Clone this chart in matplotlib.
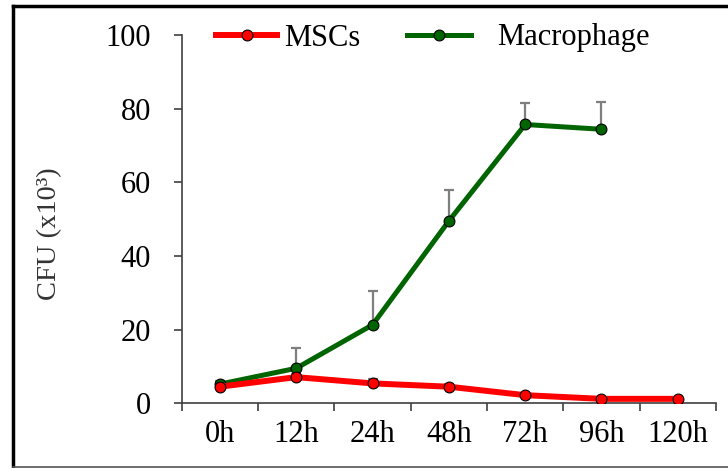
import numpy as np
import matplotlib
matplotlib.use('Agg')
import matplotlib.pyplot as plt
from matplotlib.lines import Line2D
from matplotlib.ticker import FixedLocator, NullFormatter

# data
times = ['0h', '12h', '24h', '48h', '72h', '96h', '120h']
mscs = [4.5, 7.1, 5.4, 4.5, 2.2, 1.2, 1.2]
mscs_err = [0.5, 0.8, 1.2, 0.6, 0.4, 0.3, 0.3]
macro = [5.2, 9.5, 21.3, 49.5, 75.7, 74.4]
macro_err = [0.8, 5.4, 9.2, 8.4, 5.8, 7.3]

plt.rcParams['font.family'] = ['Liberation Serif', 'DejaVu Serif']

W, H = 728, 468
fig = plt.figure(figsize=(W / 100, H / 100), dpi=100)
ax = fig.add_axes([0.2496, 0.1383, 0.9835 - 0.2496, 0.9252 - 0.1383])

x = np.arange(len(times)) + 0.5
xm = x[:len(macro)]

# error bars (upper only, grey)
ax.errorbar(x, mscs, yerr=[np.zeros(len(mscs)), mscs_err], fmt='none',
            ecolor='#7f7f7f', elinewidth=1.6, capsize=3.3, capthick=1.6, zorder=1)
ax.errorbar(xm, macro, yerr=[np.zeros(len(macro)), macro_err], fmt='none',
            ecolor='#7f7f7f', elinewidth=1.6, capsize=3.3, capthick=1.6, zorder=1)

l1, = ax.plot(x, mscs, color='#ff0000', lw=4.3, marker='o', ms=7.8,
              mfc='#ff0000', mec='black', mew=0.8, zorder=3)
l2, = ax.plot(xm, macro, color='#006400', lw=3.6, marker='o', ms=7.8,
              mfc='#006400', mec='black', mew=0.8, zorder=2)

ax.set_xlim(0, len(times))
ax.set_ylim(0, 100)
ax.set_yticks([0, 20, 40, 60, 80, 100])

# ticks at category boundaries, labels at centres
ax.xaxis.set_major_locator(FixedLocator(np.arange(len(times) + 1)))
ax.xaxis.set_major_formatter(NullFormatter())
ax.xaxis.set_minor_locator(FixedLocator(x))
ax.set_xticklabels(times, minor=True)
ax.tick_params(axis='x', which='minor', length=0, pad=12, labelsize=22)
ax.tick_params(axis='x', which='major', length=6, width=1.2, color='#404040', direction='out')
ax.tick_params(axis='y', length=6, width=1.2, color='#404040', direction='out',
               pad=16, labelsize=22)

for s in ['top', 'right']:
    ax.spines[s].set_visible(False)
for s in ['left', 'bottom']:
    ax.spines[s].set_color('#404040')
    ax.spines[s].set_linewidth(1.2)

ax.set_ylabel('CFU (x10³)', fontsize=20.5, color='#333333')
ax.yaxis.set_label_coords(-0.224, 0.46)

# two legend entries placed separately (different gaps in the reference)
leg1 = fig.legend([l1], ['MSCs'], loc='center left', frameon=False, borderpad=0,
                  bbox_to_anchor=(201 / W, 1 - 38 / H), fontsize=22,
                  handlelength=2.0, handletextpad=0.22)
leg2 = fig.legend([l2], ['Macrophage'], loc='center left', frameon=False, borderpad=0,
                  bbox_to_anchor=(392 / W, 1 - 38 / H), fontsize=22,
                  handlelength=2.1, handletextpad=0.85)

# frame around the figure
fig.add_artist(Line2D([0.018, 0.018], [0.0, 0.987], color='black', lw=2.5))
fig.add_artist(Line2D([0.018, 1.0], [0.987, 0.987], color='black', lw=2.5))
fig.add_artist(Line2D([0.018, 1.0], [0.003, 0.003], color='#555555', lw=1.2))

fig.savefig('out.png', dpi=100)
